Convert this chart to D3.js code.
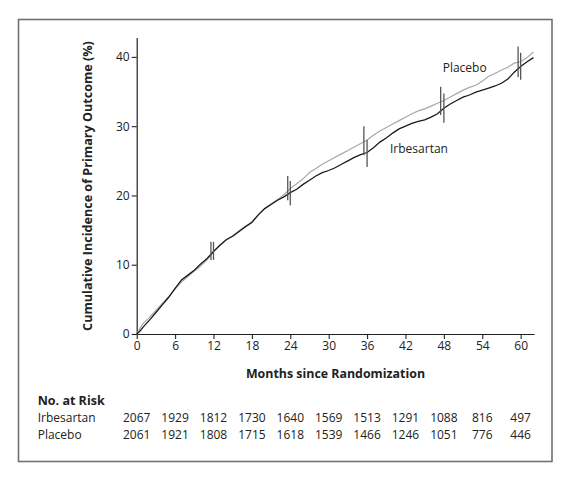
<!DOCTYPE html>
<html>
<head>
<meta charset="utf-8">
<script src="https://cdn.jsdelivr.net/npm/d3@7"></script>
<style>
  html, body { margin: 0; padding: 0; background: #fff; }
  svg { display: block; }
  text { font-family: "Open Sans", "Noto Sans", sans-serif; fill: #222; }
</style>
</head>
<body>
<svg id="chart" width="571" height="481"></svg>
<script>
// ---- Data ----
const months = [0,0.5,1,2,3,4,5,6,7,8,9,10,11,12,13,14,15,16,17,18,19,20,21,22,23,24,25,26,27,28,29,30,31,32,33,34,35,36,37,38,39,40,41,42,43,44,45,46,47,48,49,50,51,52,53,54,55,56,57,58,59,60,61,62];
const irbesartan = [0,0.4,1.0,2.0,3.1,4.2,5.3,6.6,7.8,8.5,9.2,10.1,10.9,11.9,12.8,13.6,14.1,14.8,15.5,16.1,17.2,18.1,18.7,19.3,19.8,20.4,20.9,21.6,22.2,22.8,23.3,23.6,24.0,24.5,25.0,25.5,25.9,26.2,26.9,27.7,28.3,29.0,29.6,30.0,30.4,30.7,30.9,31.3,31.8,32.6,33.2,33.7,34.2,34.5,34.9,35.2,35.5,35.8,36.2,36.8,37.8,38.6,39.3,39.9];
const placebo = [0,0.8,1.5,2.4,3.4,4.4,5.4,6.5,7.5,8.3,9.1,9.8,10.7,11.9,12.8,13.6,14.2,14.9,15.5,16.2,17.2,18.1,18.8,19.4,20.1,21.0,21.7,22.4,23.3,23.9,24.5,25.0,25.5,26.0,26.5,27.0,27.5,28.0,28.7,29.3,29.8,30.3,30.8,31.3,31.8,32.2,32.5,32.9,33.3,33.7,34.2,34.7,35.2,35.6,35.9,36.5,37.2,37.6,38.1,38.5,39.1,39.3,39.9,40.7];

// 95% CI bars
const ciIrbMonths = [12,24,36,48,60];
const ciIrbLow    = [10.7,18.6,24.1,30.5,36.7];
const ciIrbHigh   = [13.3,22.1,28.0,34.7,40.6];
const ciPlaMonths = [11.6,23.6,35.5,47.5,59.6];
const ciPlaLow    = [10.7,19.3,25.8,31.6,37.1];
const ciPlaHigh   = [13.3,22.8,30.0,35.7,41.5];

const xTicks = [0,6,12,18,24,30,36,42,48,54,60];
const yTicks = [0,10,20,30,40];

const riskGroups = ["Irbesartan","Placebo"];
const riskIrbesartan = [2067,1929,1812,1730,1640,1569,1513,1291,1088,816,497];
const riskPlacebo    = [2061,1921,1808,1715,1618,1539,1466,1246,1051,776,446];

// ---- Layout ----
const svg = d3.select("#chart");
svg.append("rect").attr("x",0).attr("y",0).attr("width",571).attr("height",481).attr("fill","#fff");
svg.append("rect").attr("x",18.5).attr("y",19.5).attr("width",533.5).attr("height",442)
  .attr("fill","none").attr("stroke","#707070").attr("stroke-width",1.6);

const x = d3.scaleLinear().domain([0,62.1]).range([136.7,534.1]);
const y = d3.scaleLinear().domain([0,42.8]).range([334,37.5]);

// axes
const xAxis = d3.axisBottom(x).tickValues(xTicks).tickSize(5).tickPadding(2).tickSizeOuter(0);
const gx = svg.append("g").attr("transform","translate(0,334)").call(xAxis);
const yAxis = d3.axisLeft(y).tickValues(yTicks).tickSize(5).tickPadding(2).tickSizeOuter(0);
const gy = svg.append("g").attr("transform","translate(136.7,0)").call(yAxis);
[gx,gy].forEach(g=>{
  g.select(".domain").attr("stroke","#222").attr("stroke-width",1.2);
  g.selectAll(".tick line").attr("stroke","#222").attr("stroke-width",1.1);
  g.selectAll(".tick text").attr("font-family","'Open Sans', sans-serif").attr("font-size",12).attr("fill","#222");
});

// axis titles
svg.append("text").attr("x",335.5).attr("y",378).attr("text-anchor","middle")
  .attr("font-size",12.4).attr("font-weight","bold").text("Months since Randomization");
svg.append("text").attr("transform","translate(92,186) rotate(-90)").attr("text-anchor","middle")
  .attr("font-size",12.6).attr("font-weight","bold").text("Cumulative Incidence of Primary Outcome (%)");

// curves
const line = d3.line().x((d,i)=>x(months[i])).y(d=>y(d));
svg.append("path").datum(placebo).attr("d",line).attr("fill","none").attr("stroke","#a8a8a8").attr("stroke-width",1.2);
svg.append("path").datum(irbesartan).attr("d",line).attr("fill","none").attr("stroke","#1a1a1a").attr("stroke-width",1.3);

// CI bars
const ciG = svg.append("g").attr("stroke","#555").attr("stroke-width",1.3);
ciPlaMonths.forEach((m,i)=>{
  ciG.append("line").attr("x1",x(m)).attr("x2",x(m)).attr("y1",y(ciPlaLow[i])).attr("y2",y(ciPlaHigh[i]));
});
ciIrbMonths.forEach((m,i)=>{
  ciG.append("line").attr("x1",x(m)).attr("x2",x(m)).attr("y1",y(ciIrbLow[i])).attr("y2",y(ciIrbHigh[i]));
});

// curve labels
svg.append("text").attr("x",442.7).attr("y",71.7).attr("font-size",12).text("Placebo");
svg.append("text").attr("x",390).attr("y",153.3).attr("font-size",12).text("Irbesartan");

// number at risk
svg.append("text").attr("x",37.7).attr("y",405).attr("font-size",12.5).attr("font-weight","bold").text("No. at Risk");
const riskRows = [riskIrbesartan, riskPlacebo];
riskGroups.forEach((g,r)=>{
  const yy = 422 + r*17;
  svg.append("text").attr("x",37.7).attr("y",yy).attr("font-size",12).text(g);
  svg.append("g").selectAll("text").data(riskRows[r]).join("text")
    .attr("x",(d,i)=>x(xTicks[i])).attr("y",yy).attr("text-anchor","middle")
    .attr("font-size",12).text(d=>d);
});
</script>
</body>
</html>
